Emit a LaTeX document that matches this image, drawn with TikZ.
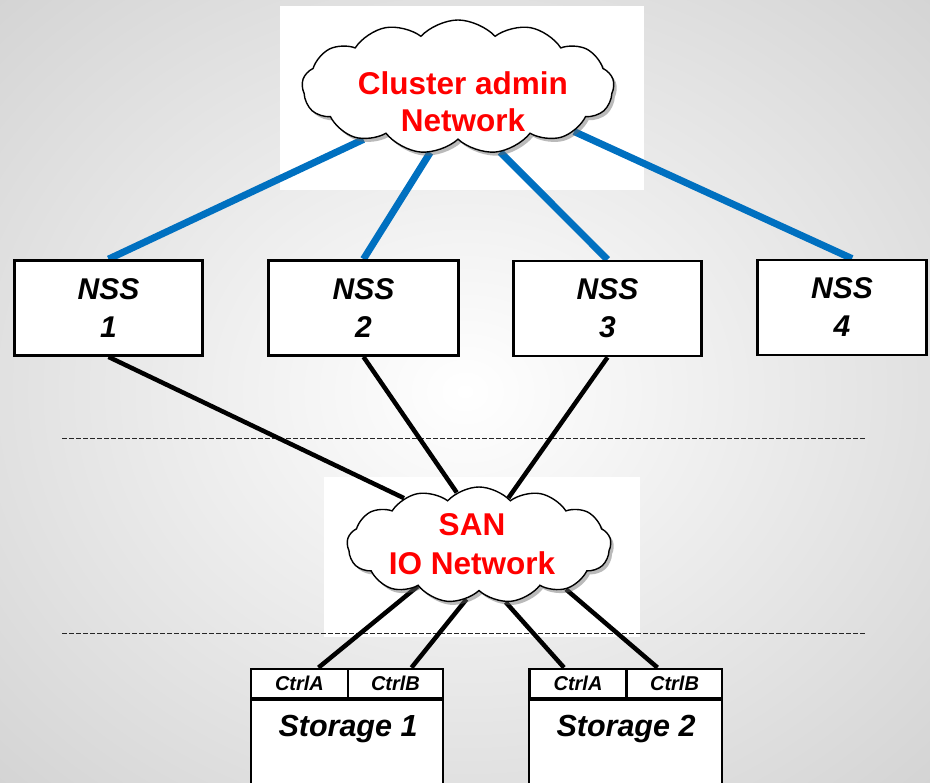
\documentclass[tikz,border=0pt]{standalone}
\usepackage{fontspec}
\setmainfont{Liberation Sans}
\usetikzlibrary{shapes.symbols,shadows}
\definecolor{linkblue}{HTML}{0070C0}
\definecolor{netred}{HTML}{FF0000}
\pgfdeclarelayer{back}
\pgfdeclarelayer{lines}
\pgfsetlayers{back,lines,main}
\begin{document}
\begin{tikzpicture}[x=1pt,y=-1pt,
  netcloud/.style={cloud, cloud puffs=13, cloud puff arc=95, cloud ignores aspect,
    draw=black, line width=1.4pt, fill=white, inner sep=0pt,
    drop shadow={shadow xshift=3pt, shadow yshift=-3.5pt, fill=black!60, opacity=0.45}},
  nettext/.style={text=netred, font=\bfseries\fontsize{31.5}{37}\selectfont, align=center, inner sep=0pt},
  nssbox/.style={draw=black, line width=2.8pt, fill=white, minimum height=95pt,
    align=center, inner sep=0pt, font=\bfseries\itshape\fontsize{30}{38}\selectfont},
  ctrlbox/.style={draw=black, line width=2.8pt, fill=white, minimum height=29pt,
    inner sep=0pt, font=\bfseries\itshape\fontsize{20}{24}\selectfont},
  bodybox/.style={draw=black, line width=2.8pt, fill=white, minimum width=192pt,
    minimum height=110pt, anchor=north, inner sep=0pt},
  storetext/.style={font=\bfseries\itshape\fontsize{30.5}{36}\selectfont, inner sep=0pt, anchor=base},
  bluelink/.style={draw=linkblue, line width=7pt},
  blacklink/.style={draw=black, line width=4.5pt},
  dashline/.style={draw=black!85, line width=1pt, dash pattern=on 4.5pt off 2.5pt}]
\useasboundingbox (0,0) rectangle (930,783);

\begin{pgfonlayer}{back}
  \shade[inner color=white, outer color=black!17] (-200,-170) rectangle (1130,953);
  \fill[white] (280,6) rectangle (644,190);
  \fill[white] (324,477) rectangle (640,637);
  \draw[dashline] (62,439) -- (866,439);
  \draw[dashline] (62,633) -- (866,633);
\end{pgfonlayer}

% clouds
\node[netcloud, minimum width=312pt, minimum height=134pt] (adm) at (458,87) {};
\node[nettext] (admt) at (463,102) {Cluster admin\\Network};
\node[netcloud, minimum width=264pt, minimum height=116pt] (san) at (479,545) {};
\node[nettext, font=\bfseries\fontsize{31.5}{39}\selectfont] (sant) at (472,544.5) {SAN\\IO Network};

% NSS boxes
\node[nssbox, minimum width=188pt] (n1) at (108.5,308) {NSS\\1};
\node[nssbox, minimum width=190pt] (n2) at (363.5,308) {NSS\\2};
\node[nssbox, minimum width=188pt] (n3) at (607.5,308.5) {NSS\\3};
\node[nssbox, minimum width=169pt] (n4) at (842,307.5) {NSS\\4};

% storage 1
\node[ctrlbox, minimum width=97pt] (ca1) at (299.5,683.5) {CtrlA};
\node[ctrlbox, minimum width=95pt] (cb1) at (395.5,683.5) {CtrlB};
\node[bodybox] (s1) at (347,698) {};
\node[storetext] (s1t) at (348,736) {Storage 1};

% storage 2
\node[ctrlbox, minimum width=97.5pt] (ca2) at (578,683.5) {CtrlA};
\node[ctrlbox, minimum width=95pt] (cb2) at (674.5,683.5) {CtrlB};
\node[bodybox, minimum width=193pt] (s2) at (625.5,698) {};
\node[storetext] (s2t) at (626,736) {Storage 2};

\begin{pgfonlayer}{lines}
  \draw[bluelink] (adm.209) -- (n1.north);
  \draw[bluelink] (adm.247) -- (n2.north);
  \draw[bluelink] (adm.303) -- (n3.north);
  \draw[bluelink] (adm.339) -- ([xshift=10pt]n4.north);
  \draw[blacklink] (n1.south) -- (san.148);
  \draw[blacklink] (n2.south) -- (san.113);
  \draw[blacklink] (n3.south) -- (san.58);
  \draw[blacklink] (san.214) -- ([xshift=19pt]ca1.north);
  \draw[blacklink] (san.257) -- ([xshift=16pt]cb1.north);
  \draw[blacklink] (san.295) -- ([xshift=-14pt]ca2.north);
  \draw[blacklink] (san.333) -- ([xshift=-17pt]cb2.north);
\end{pgfonlayer}
\end{tikzpicture}
\end{document}
